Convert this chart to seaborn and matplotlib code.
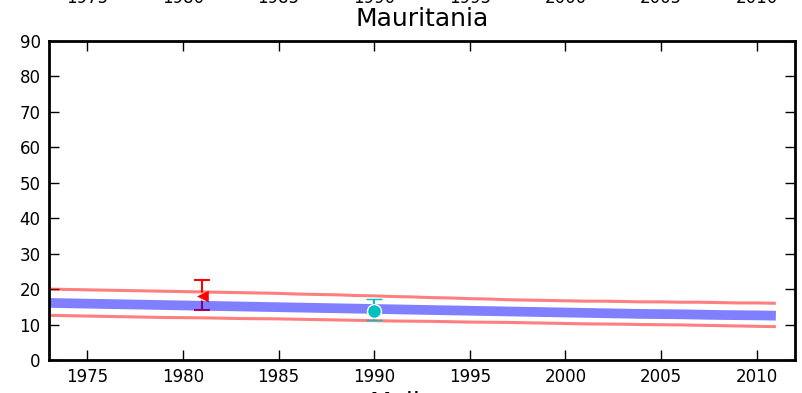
import matplotlib
matplotlib.use('Agg')
import matplotlib.pyplot as plt
import matplotlib.transforms as mtransforms
import seaborn as sns

years = list(range(1973, 2012))

# modelled estimate and its bounds
estimate = [16.1, 16.0, 15.9, 15.8, 15.7, 15.6, 15.5, 15.4, 15.3, 15.2,
            15.1, 15.0, 14.9, 14.8, 14.7, 14.6, 14.5, 14.4,
            14.3, 14.2, 14.1, 14.0, 13.9, 13.8, 13.7, 13.6, 13.5, 13.4,
            13.3, 13.2, 13.1, 13.0, 12.95, 12.9, 12.8, 12.7, 12.65, 12.6, 12.5]
upper = [20.0, 19.9, 19.8, 19.7, 19.6, 19.5, 19.4, 19.3, 19.2, 19.1,
         19.0, 18.9, 18.8, 18.6, 18.5, 18.4, 18.2, 18.1,
         17.9, 17.8, 17.6, 17.5, 17.3, 17.2, 17.0, 16.9, 16.8, 16.7,
         16.6, 16.6, 16.5, 16.4, 16.4, 16.3, 16.3, 16.2, 16.1, 16.1, 16.0]
lower = [12.6, 12.5, 12.4, 12.3, 12.2, 12.1, 12.0, 11.95, 11.9, 11.8,
         11.7, 11.65, 11.6, 11.5, 11.4, 11.3, 11.2, 11.1,
         11.0, 10.95, 10.9, 10.8, 10.7, 10.65, 10.6, 10.5, 10.4, 10.3,
         10.2, 10.15, 10.1, 10.0, 9.95, 9.9, 9.8, 9.7, 9.6, 9.5, 9.4]

# survey points
tri_year, tri_val, tri_lo, tri_hi = 1981, 18.1, 14.1, 22.6
dot_year, dot_val, dot_lo, dot_hi = 1990, 13.9, 11.3, 17.1

xticks = [1975, 1980, 1985, 1990, 1995, 2000, 2005, 2010]
yticks = [0, 10, 20, 30, 40, 50, 60, 70, 80, 90]

sns.set_style('white')
plt.rcParams['font.family'] = ['DejaVu Sans']
plt.rcParams['text.color'] = 'black'
plt.rcParams['xtick.color'] = 'black'
plt.rcParams['ytick.color'] = 'black'

fig = plt.figure(figsize=(8.03, 3.93), dpi=100)
ax = fig.add_axes([49 / 803, 33 / 393, 746 / 803, 319 / 393])

# red survey point sits under the band
ax.errorbar([tri_year], [tri_val],
            yerr=[[tri_val - tri_lo], [tri_hi - tri_val]],
            fmt='<', color='r', mec='w', ms=10, capsize=6, capthick=1.5,
            elinewidth=1.5, zorder=1)

sns.lineplot(x=years, y=upper, color='r', alpha=0.5, linewidth=2.2, ax=ax,
             zorder=2, solid_capstyle='butt')
sns.lineplot(x=years, y=lower, color='r', alpha=0.5, linewidth=2.2, ax=ax,
             zorder=2, solid_capstyle='butt')
sns.lineplot(x=years, y=estimate, color='b', alpha=0.5, linewidth=7, ax=ax,
             zorder=2, solid_capstyle='butt')

ax.errorbar([dot_year], [dot_val],
            yerr=[[dot_val - dot_lo], [dot_hi - dot_val]],
            fmt='o', color='c', mec='w', mew=1, ms=10, capsize=6, capthick=1.5,
            elinewidth=1.5, zorder=3)

ax.set_xlim(1973, 2012)
ax.set_ylim(0, 90)
ax.set_xticks(xticks)
ax.set_yticks(yticks)
ax.tick_params(direction='in', length=7, width=1, labelsize=12,
               top=True, right=True, bottom=True, left=True, pad=6)
for s in ax.spines.values():
    s.set_linewidth(2)
    s.set_color('black')
ax.set_title('Mauritania', fontsize=18, pad=11, color='black')

# pieces of the neighbouring panels that are cut by the frame
trans = mtransforms.blended_transform_factory(ax.transData, fig.transFigure)
for t in xticks:
    ax.text(t, 1 - 3 / 393, str(t), transform=trans, ha='center', va='baseline',
            fontsize=12, clip_on=False)
fig.text(0.492, 1 - 391 / 393, 'Mali', ha='center', va='top', fontsize=18)

fig.savefig('out.png', dpi=100)
